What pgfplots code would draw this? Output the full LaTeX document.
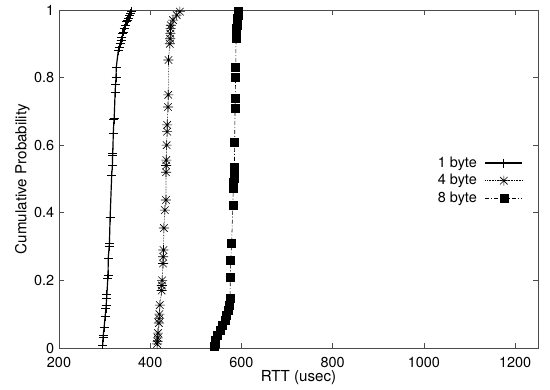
\documentclass[border=0pt]{standalone}
\usepackage{fontspec}
\setmainfont{TeX Gyre Heros}
\usepackage{pgfplots}
\pgfplotsset{compat=1.18}
\pgfdeclareplotmark{gpstar}{%
  \pgfpathmoveto{\pgfqpoint{-\pgfplotmarksize}{0pt}}\pgfpathlineto{\pgfqpoint{\pgfplotmarksize}{0pt}}%
  \pgfpathmoveto{\pgfqpoint{0pt}{-\pgfplotmarksize}}\pgfpathlineto{\pgfqpoint{0pt}{\pgfplotmarksize}}%
  \pgfpathmoveto{\pgfqpoint{-0.75\pgfplotmarksize}{-0.75\pgfplotmarksize}}\pgfpathlineto{\pgfqpoint{0.75\pgfplotmarksize}{0.75\pgfplotmarksize}}%
  \pgfpathmoveto{\pgfqpoint{-0.75\pgfplotmarksize}{0.75\pgfplotmarksize}}\pgfpathlineto{\pgfqpoint{0.75\pgfplotmarksize}{-0.75\pgfplotmarksize}}%
  \pgfusepathqstroke}
\begin{document}
\fontsize{14}{16}\selectfont
\begin{tikzpicture}
\begin{axis}[
  scale only axis,
  width=479bp, height=338bp,
  xmin=200, xmax=1250, ymin=0, ymax=1,
  xtick={200,400,600,800,1000,1200},
  ytick={0,0.2,0.4,0.6,0.8,1},
  yticklabels={0,0.2,0.4,0.6,0.8,1},
  /pgf/number format/assume math mode=true,
  /pgf/number format/1000 sep={},
  tick align=inside,
  major tick length=5bp,
  axis line style={black!70, line width=0.8pt},
  every tick/.style={black!70, line width=0.6pt},
  xlabel={RTT (usec)},
  ylabel={Cumulative Probability},
  ticklabel style={font=\fontsize{14.5}{16}\selectfont},
  label style={font=\fontsize{15.2}{17}\selectfont},
  xticklabel style={yshift=-4bp},
  xlabel style={yshift=6bp},
  ylabel shift=-5bp,
  legend plot pos=right,
  legend cell align=right,
  legend style={draw=none, fill=none, at={(rel axis cs:0.975,0.495)}, anchor=east,
    row sep=1pt, font=\fontsize{14.5}{16}\selectfont,
    /tikz/every odd column/.append style={column sep=6bp}},
  legend image code/.code={\draw[mark repeat=2,mark phase=2] plot coordinates {(0cm,0cm) (0.65cm,0cm) (1.3cm,0cm)};},
  after end axis/.code={
    \path (rel axis cs:1,0) ++(12bp,-41bp);
    \path (rel axis cs:0,1) ++(-59bp,10bp);
  },
]
\addplot[black, line width=1.2pt, mark=+, mark size=4.5bp, mark options={solid, line width=0.9pt}] coordinates {
(296,0.009) (296.5,0.03) (297,0.038) (299,0.062) (301,0.092) (303,0.118) (303.5,0.127) (304.5,0.148) (305,0.157) (307,0.207) (307.5,0.216) (308,0.266) (310,0.299) (310.5,0.308) (312,0.385) (315.5,0.51) (317,0.54) (317.5,0.57) (318,0.577) (319,0.636) (320.5,0.675) (321,0.68) (323,0.757) (324,0.78) (325,0.80) (325.5,0.83) (330,0.88) (332,0.89) (334,0.90) (336,0.91) (338,0.92) (340,0.93) (341,0.935) (343,0.945) (345,0.955) (348,0.965) (350,0.97) (352,0.975) (355,0.985) (357,0.99) (359,0.995)
};
\addlegendentry{1 byte}
\addplot[black, densely dotted, line width=0.6pt, mark=gpstar, mark size=5bp, mark options={solid, line width=0.6pt}] coordinates {
(415,0.012) (416,0.02) (416.5,0.03) (417,0.044) (419,0.074) (419.5,0.087) (420,0.10) (421,0.127) (425,0.17) (425.5,0.185) (426,0.20) (428,0.25) (428.5,0.27) (429,0.29) (430,0.355) (432,0.408) (434.5,0.438) (434.6,0.52) (435,0.54) (435.2,0.556) (436,0.60) (437,0.64) (437.2,0.66) (439,0.713) (439.5,0.749) (440,0.852) (443,0.90) (443.5,0.915) (444,0.93) (444.5,0.945) (445,0.955) (450,0.97) (458,0.985) (465,0.995)
};
\addlegendentry{4 byte}
\addplot[black, dash pattern=on 4pt off 2pt on 1pt off 2pt, line width=0.6pt, mark=square*, mark size=4bp, mark options={solid}] coordinates {
(541,0.006) (542,0.015) (543,0.024) (546,0.038) (553,0.053) (559,0.068) (564,0.083) (567.5,0.098) (571,0.112) (573.5,0.127) (575,0.147) (575.5,0.21) (576.5,0.26) (578.5,0.31) (581,0.423) (582,0.472) (582.5,0.49) (583.5,0.503) (584,0.52) (584.5,0.535) (585,0.61) (586,0.71) (586.5,0.74) (587,0.80) (587.5,0.83) (588,0.915) (588.5,0.925) (589,0.935) (589.5,0.945) (590,0.955) (590.5,0.965) (591,0.975) (592,0.985) (593,0.995)
};
\addlegendentry{8 byte}
\end{axis}
\end{tikzpicture}
\end{document}
